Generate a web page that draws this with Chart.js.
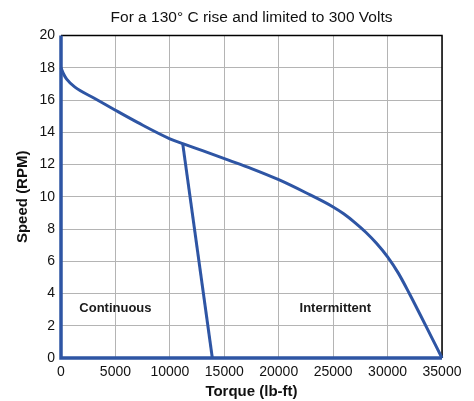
<!DOCTYPE html>
<html>
<head>
<meta charset="utf-8">
<script src="https://cdn.jsdelivr.net/npm/chart.js@4.4.1/dist/chart.umd.min.js"></script>
<style>
  html, body { margin: 0; padding: 0; background: #fff; }
  canvas { display: block; }
</style>
</head>
<body>
<canvas id="torqueChart" width="474" height="401"></canvas>
<script>
// 곡선 데이터 (토크 lb-ft / 속도 RPM)
const curveTorque = [0, 250, 520, 1280, 3100, 5000, 7070, 10000, 11180, 13000, 15450, 17500, 20000, 22500, 25000, 26000, 27000, 28000, 29000, 30000, 31000, 32000, 33000, 34000, 35000];
const curveSpeed  = [18, 17.6, 17.3, 16.8, 16.1, 15.37, 14.6, 13.6, 13.3, 12.86, 12.26, 11.75, 11.06, 10.25, 9.37, 8.93, 8.4, 7.8, 7.1, 6.27, 5.25, 4.0, 2.68, 1.34, 0];

// 연속 운전 한계선
const contTorque = [11180, 13900];
const contSpeed  = [13.3, 0];

// 외곽선 (좌측, 하단)
const edgeTorque = [0, 0, 35000];
const edgeSpeed  = [20, 0, 0];

// 영역 라벨
const regionNames  = ['Continuous', 'Intermittent'];
const regionTorque = [5000, 25200];
const regionSpeed  = [3.1, 3.1];

const xTicks = [0, 5000, 10000, 15000, 20000, 25000, 30000, 35000];
const yTicks = [0, 2, 4, 6, 8, 10, 12, 14, 16, 18, 20];

const BLUE = '#2e55a4';
const FONT = "'Liberation Sans', Arial, sans-serif";

const toPoints = (xs, ys) => xs.map((x, i) => ({ x: x, y: ys[i] }));

/*
 * 상단, 우측 검은 테두리
 */
const frameBorder = {
    id: 'frameBorder',
    beforeDatasetsDraw(chart) {
        const { ctx, chartArea: a } = chart;
        ctx.save();
        ctx.strokeStyle = '#000';
        ctx.lineWidth = 1.5;
        ctx.beginPath();
        ctx.moveTo(a.left, a.top);
        ctx.lineTo(a.right, a.top);
        ctx.lineTo(a.right, a.bottom);
        ctx.stroke();
        ctx.restore();
    }
};

/*
 * Continuous / Intermittent 텍스트
 */
const regionText = {
    id: 'regionText',
    afterDatasetsDraw(chart) {
        const { ctx, scales } = chart;
        ctx.save();
        ctx.font = 'bold 13px ' + FONT;
        ctx.fillStyle = '#1a1a1a';
        ctx.textAlign = 'center';
        ctx.textBaseline = 'middle';
        regionNames.forEach((name, i) => {
            ctx.fillText(name, scales.x.getPixelForValue(regionTorque[i]), scales.y.getPixelForValue(regionSpeed[i]));
        });
        ctx.restore();
    }
};

document.addEventListener("DOMContentLoaded", function() {
    const ctx = document.getElementById('torqueChart').getContext('2d');

    new Chart(ctx, {
        type: 'scatter',
        data: {
            datasets: [{
                data: toPoints(curveTorque, curveSpeed),
                showLine: true,
                borderColor: BLUE,
                borderWidth: 3,
                pointRadius: 0,
                cubicInterpolationMode: 'monotone',
                clip: 4
            }, {
                data: toPoints(contTorque, contSpeed),
                showLine: true,
                borderColor: BLUE,
                borderWidth: 3,
                pointRadius: 0
            }, {
                data: toPoints(edgeTorque, edgeSpeed),
                showLine: true,
                borderColor: BLUE,
                borderWidth: 3.5,
                pointRadius: 0,
                clip: false
            }]
        },
        options: {
            responsive: false,
            animation: false,
            layout: { padding: { left: 0, right: 32, top: 0, bottom: 0 } },
            plugins: {
                legend: { display: false },
                tooltip: { enabled: false },
                title: {
                    display: true,
                    text: 'For a 130\u00b0 C rise and limited to 300 Volts',
                    fullSize: false,
                    color: '#111',
                    font: { family: FONT, size: 15.5, weight: 'normal' },
                    padding: { top: 8, bottom: 9 }
                }
            },
            scales: {
                x: {
                    type: 'linear',
                    min: 0,
                    max: 35000,
                    afterBuildTicks: s => { s.ticks = xTicks.map(v => ({ value: v })); },
                    afterFit: s => { s.height = 43; },
                    grid: { color: '#b4b4b4', lineWidth: 1, drawTicks: false },
                    border: { display: false },
                    ticks: {
                        color: '#111', padding: 6, maxRotation: 0,
                        font: { family: FONT, size: 14 },
                        callback: v => String(v)
                    },
                    title: {
                        display: true,
                        text: 'Torque (lb-ft)',
                        color: '#111',
                        font: { family: FONT, size: 15, weight: 'bold' },
                        padding: { top: 0, bottom: 0 }
                    }
                },
                y: {
                    type: 'linear',
                    min: 0,
                    max: 20,
                    afterBuildTicks: s => { s.ticks = yTicks.map(v => ({ value: v })); },
                    afterFit: s => { s.width = 61; },
                    grid: { color: '#b4b4b4', lineWidth: 1, drawTicks: false },
                    border: { display: false },
                    ticks: {
                        color: '#111', padding: 6,
                        font: { family: FONT, size: 14 },
                        callback: v => String(v)
                    },
                    title: {
                        display: true,
                        text: 'Speed (RPM)',
                        color: '#111',
                        font: { family: FONT, size: 15, weight: 'bold' },
                        padding: { top: 14, bottom: 0 }
                    }
                }
            }
        },
        plugins: [frameBorder, regionText]
    });
});
</script>
</body>
</html>
